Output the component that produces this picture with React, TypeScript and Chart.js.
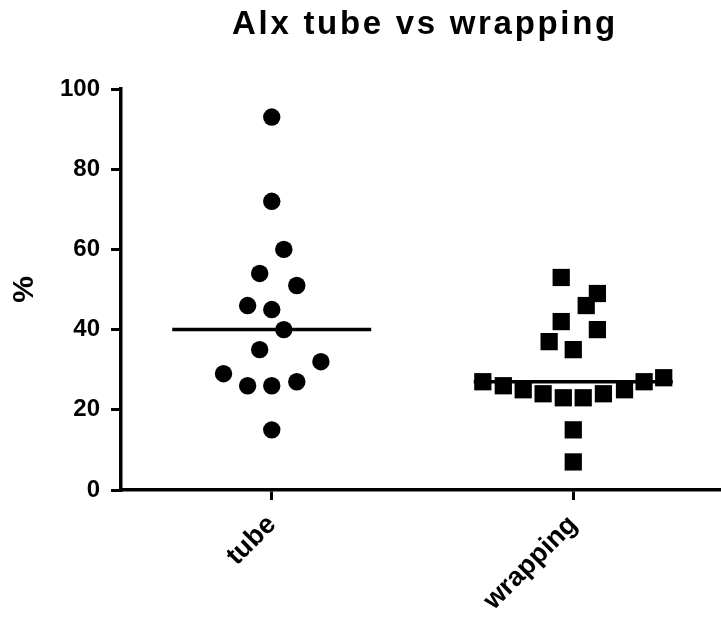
import React, { useEffect, useRef } from "react";
import { Chart, registerables } from "chart.js";

Chart.register(...registerables);

const TITLE = "Alx tube vs wrapping";
const CATEGORIES = ["tube", "wrapping"];
const Y_LABEL = "%";
const Y_TICKS = [0, 20, 40, 60, 80, 100];

// values
const tubeValues = [93, 72, 60, 54, 51, 46, 45, 40, 35, 32, 29, 26, 26, 27, 15];
// horizontal scatter (dot-plot spread) in category units
const tubeSpread = [0, 0, 0.04, -0.04, 0.083, -0.08, 0, 0.04, -0.04, 0.163, -0.16, -0.08, 0, 0.083, 0];
const wrappingValues = [53, 49, 46, 42, 40, 37, 35, 27, 26, 25, 24, 23, 23, 24, 25, 27, 28, 15, 7];
const wrappingSpread = [-0.04, 0.08, 0.043, -0.04, 0.08, -0.08, 0, -0.3, -0.232, -0.166, -0.1, -0.033, 0.033, 0.1, 0.17, 0.235, 0.3, 0, 0];
const centerValues = [40, 27];

const FONT = '"Liberation Sans", Arial, Helvetica, sans-serif';

const titlePlugin = {
  id: "customTitle",
  afterDraw(chart: any) {
    const { ctx, chartArea } = chart;
    ctx.save();
    ctx.font = `bold 33px ${FONT}`;
    (ctx as any).letterSpacing = "2.7px";
    ctx.fillStyle = "#000";
    ctx.textAlign = "center";
    ctx.textBaseline = "alphabetic";
    ctx.fillText(TITLE, (chartArea.left + chartArea.right) / 2 + 4, 34);
    ctx.restore();
  },
};

export default function App() {
  const ref = useRef<HTMLCanvasElement>(null);

  useEffect(() => {
    if (!ref.current) return;
    const halfLine = 0.33;
    const chart = new Chart(ref.current, {
      type: "scatter",
      data: {
        datasets: [
          {
            label: "center tube",
            data: [
              { x: 1 - halfLine, y: centerValues[0] },
              { x: 1 + halfLine, y: centerValues[0] },
            ],
            showLine: true,
            borderColor: "#000",
            borderWidth: 3.5,
            pointRadius: 0,
          } as any,
          {
            label: "center wrapping",
            data: [
              { x: 2 - halfLine, y: centerValues[1] },
              { x: 2 + halfLine, y: centerValues[1] },
            ],
            showLine: true,
            borderColor: "#000",
            borderWidth: 3.5,
            pointRadius: 0,
          } as any,
          {
            label: CATEGORIES[0],
            data: tubeValues.map((v, i) => ({ x: 1 + tubeSpread[i], y: v })),
            pointStyle: "circle",
            pointRadius: 8.7,
            backgroundColor: "#000",
            borderColor: "#000",
            borderWidth: 0,
          },
          {
            label: CATEGORIES[1],
            data: wrappingValues.map((v, i) => ({ x: 2 + wrappingSpread[i], y: v })),
            pointStyle: "rect",
            pointRadius: 12.2,
            backgroundColor: "#000",
            borderColor: "#000",
            borderWidth: 0,
          },
        ],
      },
      options: {
        animation: false,
        responsive: true,
        maintainAspectRatio: false,
        layout: { autoPadding: false, padding: { top: 89, left: 0, right: 0, bottom: 0 } },
        plugins: {
          legend: { display: false },
          tooltip: { enabled: false },
          title: { display: false },
        },
        scales: {
          x: {
            type: "linear",
            min: 0.5,
            max: 2.49,
            afterBuildTicks: (s: any) => {
              s.ticks = CATEGORIES.map((_, i) => ({ value: i + 1 }));
            },
            afterFit: (s: any) => {
              s.height = 129;
              s.paddingLeft = 0;
              s.paddingRight = 0;
            },
            ticks: {
              autoSkip: false,
              minRotation: 45,
              maxRotation: 45,
              padding: 9,
              color: "#000",
              font: { family: FONT, size: 27, weight: "bold" },
              callback: (v: any) => CATEGORIES[Math.round(Number(v)) - 1] ?? "",
            },
            grid: {
              drawOnChartArea: false,
              drawTicks: true,
              tickLength: 10,
              lineWidth: 3,
              color: "#000",
            },
            border: { display: true, color: "#000", width: 3.5 },
          },
          y: {
            type: "linear",
            min: 0,
            max: 100,
            afterBuildTicks: (s: any) => {
              s.ticks = Y_TICKS.map((v) => ({ value: v }));
            },
            afterFit: (s: any) => {
              s.width = 121;
            },
            ticks: {
              padding: 11,
              color: "#000",
              font: { family: FONT, size: 24, weight: "bold" },
            },
            grid: {
              drawOnChartArea: false,
              drawTicks: true,
              tickLength: 10,
              lineWidth: 3,
              color: "#000",
            },
            border: { display: true, color: "#000", width: 3.5 },
            title: {
              display: true,
              text: Y_LABEL,
              color: "#000",
              font: { family: FONT, size: 30, weight: "bold" },
              padding: { top: 7, bottom: 0 },
            },
          },
        },
      } as any,
      plugins: [titlePlugin],
    });
    return () => chart.destroy();
  }, []);

  return (
    <div style={{ position: "fixed", left: 0, top: 0, width: 721, height: 619, background: "#fff" }}>
      <canvas ref={ref} />
    </div>
  );
}
